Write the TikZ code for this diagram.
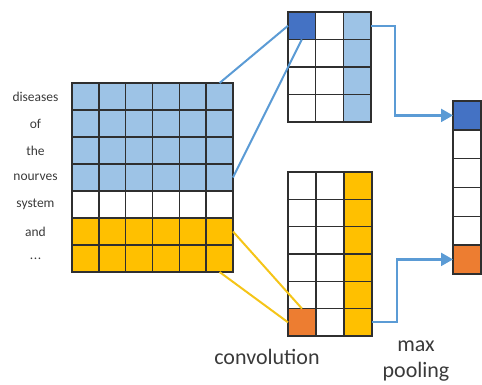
\documentclass[tikz,border=0pt]{standalone}
\usepackage{fontspec}
\setmainfont{Carlito}
\usetikzlibrary{arrows.meta}
\definecolor{lblue}{HTML}{9DC3E6}
\definecolor{dblue}{HTML}{4472C4}
\definecolor{myyellow}{HTML}{FFC000}
\definecolor{myorange}{HTML}{ED7D31}
\definecolor{linkblue}{HTML}{5B9BD5}
\definecolor{linkyellow}{HTML}{F5C518}
\definecolor{gridline}{HTML}{2F2F2F}
\definecolor{txt}{HTML}{3A3A3A}
\begin{document}
\begin{tikzpicture}[x=1pt,y=-1pt,
  cell/.style={draw=gridline,line width=1.4pt,minimum width=#1,inner sep=0pt,outer sep=0pt},
  lbl/.style={text=txt,font=\fontsize{13.5}{14}\selectfont,inner sep=0pt},
  captxt/.style={text=txt,font=\fontsize{22}{26}\selectfont,align=center,inner sep=0pt},
  bluelink/.style={draw=linkblue,line width=2pt},
  yellowlink/.style={draw=linkyellow,line width=2pt},
  arrowlink/.style={draw=linkblue,line width=2.2pt,-{Triangle[length=12pt,width=13pt]}}]
\useasboundingbox (0,0) rectangle (482,384);
% main matrix: 7 rows x 6 cols
\foreach \r/\col in {1/lblue,2/lblue,3/lblue,4/lblue,5/white,6/myyellow,7/myyellow}{
  \foreach \c in {1,2,3,4,5,6}{
    \node[cell=26.83pt,minimum height=27pt,fill=\col] (m-\r-\c) at ({72+26.83*(\c-0.5)},{83+27*(\r-0.5)}) {};
  }
}
% labels
\foreach \r/\t in {1/diseases,2/of,3/the,4/nourves,5/system,6/and}{
  \node[lbl] (l-\r) at (35.5,{83+27*(\r-0.5)}) {\t};
}
\node[lbl] (l-7) at (35.5,{83+27*6.5}) {.\kern0.6pt.\kern0.6pt.};
% top conv: 4 rows x 3 cols
\foreach \r in {1,2,3,4}{
  \foreach \c/\col in {1/white,2/white,3/lblue}{
    \node[cell=27.67pt,minimum height=27.5pt,fill=\col] (t-\r-\c) at ({288+27.67*(\c-0.5)},{12+27.5*(\r-0.5)}) {};
  }
}
\node[cell=27.67pt,minimum height=27.5pt,fill=dblue] at (t-1-1) {};
% bottom conv: 6 rows x 3 cols
\foreach \r in {1,2,3,4,5,6}{
  \foreach \c/\col in {1/white,2/white,3/myyellow}{
    \node[cell=28pt,minimum height=27.33pt,fill=\col] (b-\r-\c) at ({288+28*(\c-0.5)},{172+27.33*(\r-0.5)}) {};
  }
}
\node[cell=28pt,minimum height=27.33pt,fill=myorange] at (b-6-1) {};
% output vector
\foreach \r/\col in {1/dblue,2/white,3/white,4/white,5/white,6/myorange}{
  \node[cell=28pt,minimum height=28.8pt,fill=\col] (o-\r) at (467,{101+28.8*(\r-0.5)}) {};
}
% links
\draw[bluelink] (m-1-6.north) -- (t-1-1.west);
\draw[bluelink] (m-4-6.east) -- (t-1-1.south);
\draw[yellowlink] (m-6-6.east) -- (b-6-1.north);
\draw[yellowlink] (m-7-6.south) -- (b-6-1.west);
\draw[arrowlink] (t-1-3.east) -- ++(24,0) |- (o-1.west);
\draw[arrowlink] (b-6-3.east) -- ++(25,0) |- (o-6.west);
% captions
\node[captxt,anchor=base] (conv) at (267,364) {convolution};
\node[captxt,anchor=base] (maxp) at (416,351) {max};
\node[captxt,anchor=base] (pool) at (416,377) {pooling};
\end{tikzpicture}
\end{document}
